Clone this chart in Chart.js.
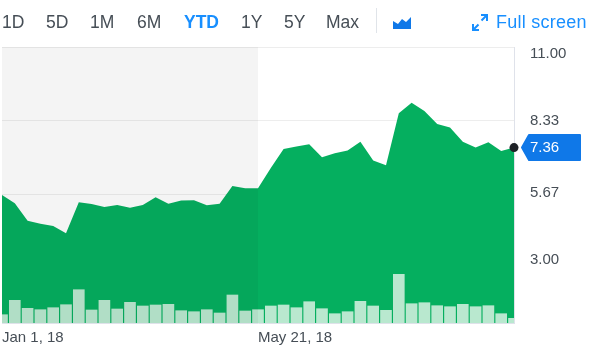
<!DOCTYPE html>
<html>
<head>
<meta charset="utf-8">
<script src="https://cdn.jsdelivr.net/npm/chart.js@4"></script>
<style>
html, body { margin: 0; padding: 0; background: #fff; }
#wrap { position: relative; width: 607px; height: 360px; overflow: hidden; font-family: "Liberation Sans", sans-serif; }
#grafico { position: absolute; left: 0; top: 0; }
.btn { position: absolute; top: 12px; font-size: 17.5px; line-height: 20px; color: #464e56; white-space: nowrap; }
.azul { color: #188fff; }
#sep { position: absolute; left: 376px; top: 8px; width: 1px; height: 25px; background: #e0e4e9; }
svg { position: absolute; }
</style>
</head>
<body>
<div id="wrap">
  <canvas id="grafico" width="607" height="360"></canvas>
  <span class="btn" style="left:2px">1D</span>
  <span class="btn" style="left:46px">5D</span>
  <span class="btn" style="left:90px">1M</span>
  <span class="btn" style="left:137px">6M</span>
  <span class="btn azul" style="left:184px;font-weight:bold">YTD</span>
  <span class="btn" style="left:241px">1Y</span>
  <span class="btn" style="left:284px">5Y</span>
  <span class="btn" style="left:326px">Max</span>
  <div id="sep"></div>
  <svg style="left:393px;top:16px" width="19" height="14"><path d="M0 5 L5 8 L9 3 L13 6 L18 1 V13 H0 Z" fill="#0f78e8"/></svg>
  <svg style="left:471px;top:13px" width="18" height="19" fill="none" stroke="#188fff" stroke-width="2"><path d="M10 2 H16 V8 M16 2 L10.5 7.5 M2 11 V17 H8 M2 17 L7.5 11.5"/></svg>
  <span class="btn azul" style="left:496px;font-size:18px;letter-spacing:0.25px">Full screen</span>
</div>
<script>
// Datos
const fechas = ['Jan 1, 18', '', '', '', '', '', '', '', '', '', '', '', '', '', '', '', '', '', '', '', 'May 21, 18',
  '', '', '', '', '', '', '', '', '', '', '', '', '', '', '', '', '', '', '', ''];
const precios = [5.64, 5.34, 4.71, 4.60, 4.52, 4.26, 5.38, 5.32, 5.21, 5.28, 5.18, 5.28, 5.56, 5.33, 5.44, 5.45, 5.27, 5.33, 5.97, 5.89, 5.89,
  6.62, 7.31, 7.40, 7.48, 7.01, 7.15, 7.25, 7.57, 6.89, 6.72, 8.60, 8.98, 8.68, 8.21, 8.09, 7.57, 7.36, 7.55, 7.24, 7.36];
const volumen = [0.83, 2.27, 1.47, 1.33, 1.53, 1.83, 3.33, 1.30, 2.27, 1.40, 2.07, 1.70, 1.80, 1.87, 1.23, 1.13, 1.33, 1.00, 2.80, 1.20, 1.33,
  1.70, 1.80, 1.53, 2.13, 1.43, 0.93, 1.13, 2.17, 1.70, 1.27, 4.87, 1.93, 2.03, 1.73, 1.63, 1.87, 1.63, 1.73, 0.93, 0.47];
const ticksPrecio = [11, 8.33, 5.67, 3];
const textosPrecio = ['11.00', '8.33', '5.67', '3.00'];
const ultimoPrecio = '7.36';
const indiceSombra = 20;

// Un poco transparente para que la reticula se adivine debajo del area
const VERDE = 'rgba(0,173,92,0.98)';
const AZUL = '#0f78e8';
const TEXTO = '#464e56';
const FUENTE = '"Liberation Sans", sans-serif';

// Las etiquetas del eje no estan justo sobre su linea en la original
const desplazamiento = [7, 0, -1, -8];

// Zona sombreada a la izquierda, etiquetas de precio y globo azul
const extras = {
  id: 'extras',
  afterDatasetsDraw(chart) {
    const { ctx, chartArea, scales } = chart;
    const xs = scales.x.getPixelForValue(indiceSombra);
    ctx.save();
    ctx.fillStyle = 'rgba(0,0,0,0.045)';
    ctx.fillRect(chartArea.left, chartArea.top, xs - chartArea.left, chartArea.bottom - chartArea.top);
    ctx.restore();
  },
  afterDraw(chart) {
    const { ctx, chartArea, scales } = chart;
    ctx.save();
    ctx.font = '15px ' + FUENTE;
    ctx.fillStyle = TEXTO;
    ctx.textBaseline = 'middle';
    ctx.textAlign = 'left';
    ticksPrecio.forEach((v, i) => {
      ctx.fillText(textosPrecio[i], 530, scales.y.getPixelForValue(v) + desplazamiento[i]);
    });

    const yp = scales.y.getPixelForValue(precios[precios.length - 1]);
    ctx.fillStyle = AZUL;
    ctx.strokeStyle = AZUL;
    ctx.lineWidth = 2;
    ctx.lineJoin = 'round';
    ctx.beginPath();
    ctx.moveTo(chartArea.right + 8, yp);
    ctx.lineTo(chartArea.right + 15, yp - 12.5);
    ctx.lineTo(580, yp - 12.5);
    ctx.lineTo(580, yp + 12.5);
    ctx.lineTo(chartArea.right + 15, yp + 12.5);
    ctx.closePath();
    ctx.fill();
    ctx.stroke();
    ctx.fillStyle = '#fff';
    ctx.fillText(ultimoPrecio, 530, yp);
    ctx.restore();
  }
};

new Chart(document.getElementById('grafico').getContext('2d'), {
  data: {
    labels: fechas,
    datasets: [
      {
        type: 'bar',
        data: volumen,
        yAxisID: 'vol',
        backgroundColor: '#b9e8cf',
        barThickness: 11,
        order: 1
      },
      {
        type: 'line',
        data: precios,
        yAxisID: 'y',
        borderWidth: 0,
        backgroundColor: VERDE,
        fill: 'start',
        tension: 0,
        clip: false,
        pointRadius: (c) => c.dataIndex === precios.length - 1 ? 4.5 : 0,
        pointBackgroundColor: '#1d2126',
        pointBorderWidth: 0,
        order: 2
      }
    ]
  },
  options: {
    responsive: false,
    animation: false,
    layout: { autoPadding: false, padding: { left: 2, top: 47 } },
    plugins: { legend: { display: false }, tooltip: { enabled: false } },
    scales: {
      x: {
        type: 'category',
        offset: false,
        afterFit: (s) => { s.height = 37; s.paddingLeft = 0; s.paddingRight = 0; },
        grid: { display: false, drawTicks: false },
        border: { display: true, color: '#dfe2ea', width: 1 },
        ticks: {
          autoSkip: false,
          maxRotation: 0,
          align: 'start',
          padding: 6,
          color: TEXTO,
          font: { family: FUENTE, size: 15 },
          callback: (v, i) => fechas[i]
        }
      },
      y: {
        position: 'right',
        min: 1.01,
        max: 11,
        afterFit: (s) => { s.width = 93; s.paddingTop = 0; s.paddingBottom = 0; },
        afterBuildTicks: (s) => { s.ticks = ticksPrecio.map((v) => ({ value: v })); },
        grid: { color: 'rgba(0,0,0,0.07)', drawTicks: false },
        border: { display: true, color: '#dfe2ea', width: 1 },
        ticks: { display: false }
      },
      vol: { display: false, min: 0, max: 27.6 }
    }
  },
  plugins: [extras]
});
</script>
</body>
</html>
